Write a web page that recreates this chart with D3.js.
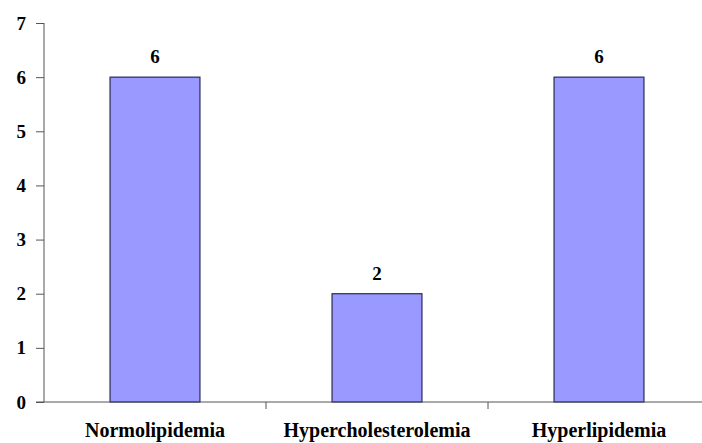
<!DOCTYPE html>
<html lang="en">
<head>
  <meta charset="UTF-8">
  <title>Lipid profile counts</title>
  <script src="https://d3js.org/d3.v7.min.js"></script>
  <style>
    body { margin: 0; background: #fff; }
    svg text { font-family: "Liberation Serif", "Times New Roman", Tinos, "DejaVu Serif", serif !important; font-weight: bold; fill: #000; }
  </style>
</head>
<body>
  <svg width="702" height="443"></svg>
  <script>
    const categories = ["Normolipidemia", "Hypercholesterolemia", "Hyperlipidemia"];
    const counts = [6, 2, 6];
    const yTicks = [0, 1, 2, 3, 4, 5, 6, 7];

    const margin = { top: 23, right: -8, bottom: 41, left: 44 };
    const width = 702 - margin.left - margin.right;
    const height = 443 - margin.top - margin.bottom;

    const svg = d3.select("svg")
      .append("g")
      .attr("transform", `translate(${margin.left},${margin.top})`);

    const x = d3.scaleBand().domain(categories).range([0, width]);
    const y = d3.scaleLinear().domain([0, 7]).range([height, 0]);

    const barW = x.bandwidth() * 0.405;

    svg.selectAll(".bar")
      .data(categories)
      .enter().append("rect")
      .attr("class", "bar")
      .attr("x", d => x(d) + (x.bandwidth() - barW) / 2)
      .attr("y", (d, i) => y(counts[i]))
      .attr("width", barW)
      .attr("height", (d, i) => height - y(counts[i]))
      .attr("fill", "#9999ff")
      .attr("stroke", "#2a2a55")
      .attr("stroke-width", 1.2);

    svg.selectAll(".val")
      .data(categories)
      .enter().append("text")
      .attr("class", "val")
      .attr("x", d => x(d) + x.bandwidth() / 2)
      .attr("y", (d, i) => y(counts[i]) - 14)
      .attr("text-anchor", "middle")
      .style("font-size", "19px")
      .text((d, i) => counts[i]);

    // y axis
    const gY = svg.append("g")
      .call(d3.axisLeft(y).tickValues(yTicks).tickSize(8).tickPadding(10).tickFormat(d3.format("d")));
    gY.attr("font-family", null).attr("font-size", null);
    gY.select(".domain").attr("stroke", "#555").attr("d", `M0,${height}V0`);
    gY.selectAll(".tick line").attr("stroke", "#555");
    gY.selectAll("text").style("font-size", "19px");

    // x axis
    const gX = svg.append("g").attr("transform", `translate(0,${height})`);
    gX.append("line").attr("x1", -8).attr("x2", width).attr("stroke", "#555");
    gX.selectAll(".sep")
      .data(categories.slice(1))
      .enter().append("line")
      .attr("class", "sep")
      .attr("x1", d => x(d)).attr("x2", d => x(d))
      .attr("y1", 0).attr("y2", 7)
      .attr("stroke", "#555");
    gX.selectAll(".cat")
      .data(categories)
      .enter().append("text")
      .attr("class", "cat")
      .attr("x", d => x(d) + x.bandwidth() / 2)
      .attr("y", 35)
      .attr("text-anchor", "middle")
      .style("font-size", "20px")
      .text(d => d);
  </script>
</body>
</html>
